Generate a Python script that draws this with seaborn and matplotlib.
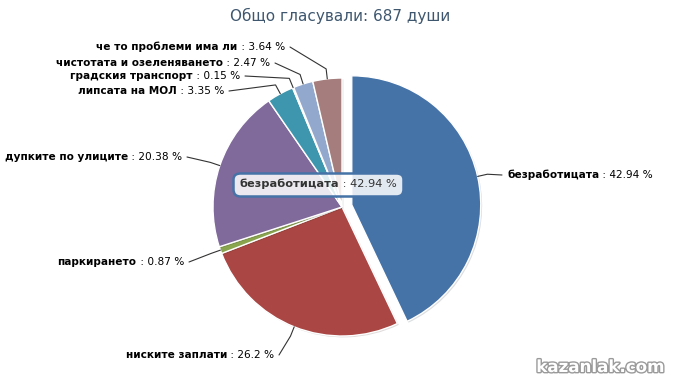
import numpy as np
import matplotlib.pyplot as plt
import seaborn as sns
import matplotlib.patheffects as pe
from matplotlib.offsetbox import TextArea, HPacker, AnnotationBbox

categories = ['безработицата', 'ниските заплати', 'паркирането', 'дупките по улиците',
              'липсата на МОЛ', 'градския транспорт', 'чистотата и озеленяването',
              'че то проблеми има ли']
shares = [42.94, 26.2, 0.87, 20.38, 3.35, 0.15, 2.47, 3.64]
share_text = ['42.94', '26.2', '0.87', '20.38', '3.35', '0.15', '2.47', '3.64']
colors = ['#4572A7', '#AA4643', '#89A54E', '#80699B', '#3D96AE', '#DB843D', '#92A8CD', '#A47D7C']
title = 'Общо гласували: 687 души'

# label anchor layout in pixels (x, y from top, side)
label_layout = [(507, 175, 'left'), (274, 355, 'right'), (184, 262, 'right'), (182, 157, 'right'),
                (224, 91, 'right'), (240, 76, 'right'), (270, 63, 'right'), (285, 47, 'right')]

sns.set_style('white')
plt.rcParams['font.family'] = ['DejaVu Sans']

W, H = 690, 391
fig = plt.figure(figsize=(6.9, 3.91), dpi=100)
ax = fig.add_axes([0, 0, 1, 1])

cx, cy, R = 342, H - 207, 129
explode = [10] + [0] * (len(shares) - 1)  # pie offsets are in data units here
wedges, _ = ax.pie(shares, colors=colors, startangle=90, counterclock=False,
                   center=(cx, cy), radius=R, explode=explode, frame=True,
                   wedgeprops=dict(edgecolor='white', linewidth=1))
for w in wedges:
    w.set_path_effects([pe.SimplePatchShadow(offset=(1, -1), alpha=0.15), pe.Normal()])

ax.set_xlim(0, W)
ax.set_ylim(0, H)
ax.set_aspect('auto')
ax.axis('off')

lab_size = 7.6
for w, name, val, (lx, ly, side) in zip(wedges, categories, share_text, label_layout):
    ang = np.deg2rad((w.theta1 + w.theta2) / 2)
    ox, oy = w.center
    edge = (ox + w.r * np.cos(ang), oy + w.r * np.sin(ang))
    bend = (ox + (w.r + 10) * np.cos(ang), oy + (w.r + 10) * np.sin(ang))
    ly = H - ly
    end = (lx - 5, ly) if side == 'left' else (lx + 5, ly)
    ax.plot([edge[0], bend[0], end[0]], [edge[1], bend[1], end[1]],
            color='#333333', lw=0.8, zorder=1)
    box = HPacker(children=[TextArea(name, textprops=dict(fontsize=lab_size, fontweight='bold', color='black')),
                            TextArea(' : ' + val + ' %', textprops=dict(fontsize=lab_size, color='black'))],
                  pad=0, sep=0, align='baseline')
    ab = AnnotationBbox(box, (lx, ly), frameon=False, pad=0,
                        box_alignment=(0, 0.5) if side == 'left' else (1, 0.5))
    ax.add_artist(ab)

# tooltip
tip = HPacker(children=[TextArea(categories[0], textprops=dict(fontsize=8.2, fontweight='bold', color='#333333')),
                        TextArea(' : ' + share_text[0] + ' %', textprops=dict(fontsize=8.2, color='#333333'))],
              pad=0, sep=0, align='baseline')
tab = AnnotationBbox(tip, (318, H - 184), pad=0.45, box_alignment=(0.5, 0.5),
                     bboxprops=dict(boxstyle='round,pad=0.45,rounding_size=0.5',
                                    fc=(1, 1, 1, 0.85), ec='#4572A7', lw=1.8))
ax.add_artist(tab)

ax.text(340, H - 16, title, ha='center', va='center', fontsize=11, color='#3E576F')

ax.text(600, H - 367, 'kazanlak.com', ha='center', va='center', fontsize=12, fontweight='bold',
        color='white', path_effects=[pe.withStroke(linewidth=2, foreground='#9a9a9a')])

fig.savefig('out.png', dpi=100)
